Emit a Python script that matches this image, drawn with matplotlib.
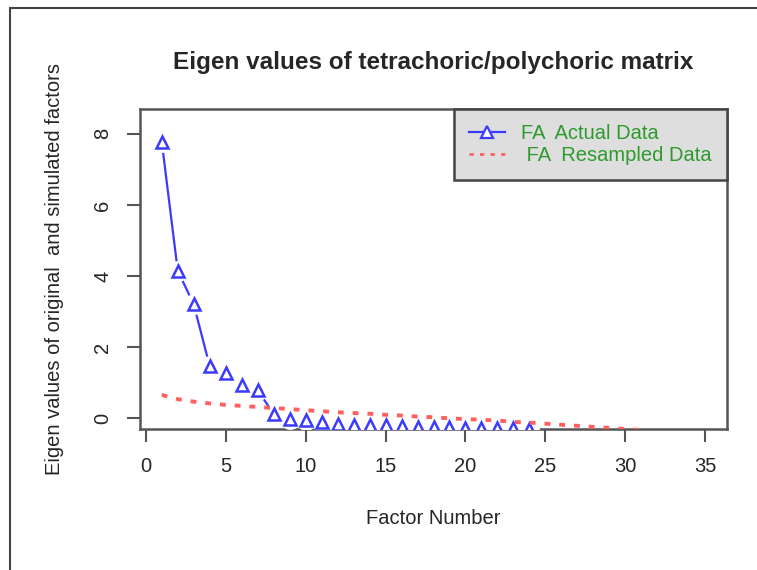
import numpy as np
import matplotlib.pyplot as plt
from matplotlib.lines import Line2D
from matplotlib.patches import Rectangle

plt.rcParams['font.family'] = ['Liberation Sans', 'DejaVu Sans']

# eigen values
actual_factors = np.arange(1, 25)
actual_values = [7.78, 4.15, 3.20, 1.46, 1.26, 0.93, 0.78, 0.12, -0.02, -0.05,
                 -0.10, -0.17, -0.19, -0.20, -0.21, -0.22, -0.24, -0.25, -0.26,
                 -0.27, -0.28, -0.29, -0.29, -0.30]

resampled_factors = np.arange(1, 32)
resampled_values = [0.65, 0.53, 0.46, 0.41, 0.37, 0.34, 0.31, 0.28, 0.25, 0.22,
                    0.19, 0.16, 0.14, 0.12, 0.09, 0.07, 0.04, 0.02, -0.01, -0.03,
                    -0.05, -0.07, -0.11, -0.13, -0.16, -0.19, -0.22, -0.25, -0.28,
                    -0.31, -0.34]

xticks = [0, 5, 10, 15, 20, 25, 30, 35]
yticks = [0, 2, 4, 6, 8]

txt = '#262626'
blue = '#3b3bff'
red = '#ff5f5f'
dots = (0, (1.5, 2.3))

fig = plt.figure(figsize=(7.57, 5.70), dpi=100)
# cropped outer frame of the original device
fig.patches.append(Rectangle((10 / 757, -0.1), 1.2, 1.1 - 8 / 570, transform=fig.transFigure,
                             fill=False, edgecolor='#444444', linewidth=1.5))

ax = fig.add_axes([140 / 757, 1 - 429 / 570, 587 / 757, 320 / 570])

# type="b" look: line with gaps around the points
ax.plot(actual_factors, actual_values, color=blue, lw=1.6, zorder=2)
ax.plot(actual_factors, actual_values, 'o', ms=15, mfc='white', mec='none', zorder=3)
ax.plot(actual_factors, actual_values, '^', ms=9, mfc='white', mec=blue, mew=1.8, zorder=4)
ax.plot(resampled_factors, resampled_values, color=red, lw=2.8, linestyle=dots, zorder=5)

ax.set_xlim(-0.36, 36.36)
ax.set_ylim(-0.31, 8.70)
ax.set_xticks(xticks)
ax.set_yticks(yticks)
ax.set_yticklabels([str(v) for v in yticks], rotation=90, va='center')
ax.tick_params(direction='out', length=9.5, width=1.5, colors='#555555',
               labelcolor=txt, labelsize=14.5, pad=10.5)
for s in ax.spines.values():
    s.set_color('#555555')
    s.set_linewidth(1.8)

ax.set_title('Eigen values of tetrachoric/polychoric matrix', fontsize=17.5,
             fontweight='bold', color=txt, y=1 + 47 / 320, va='center', pad=0)
ax.set_xlabel('Factor Number', fontsize=14.5, color=txt, va='center')
ax.xaxis.set_label_coords(0.5, -89 / 320)
ax.set_ylabel('Eigen values of original  and simulated factors', fontsize=14.5,
              color=txt, va='center')
ax.yaxis.set_label_coords(-85 / 587, 0.5)

handles = [Line2D([], [], color=blue, lw=1.6, marker='^', ms=8, mfc='white', mec=blue, mew=1.6),
           Line2D([], [], color=red, lw=2, linestyle=dots)]
leg = ax.legend(handles, ['FA  Actual Data', ' FA  Resampled Data'], loc='upper right',
                borderaxespad=0, fancybox=False, framealpha=1, facecolor='#dedede',
                edgecolor='#444444', fontsize=14.5, labelcolor='#2e9a2e',
                handlelength=1.8, handletextpad=0.8, borderpad=0.75, labelspacing=0.15)
leg.get_frame().set_linewidth(1.8)

fig.savefig('out.png', dpi=100)
